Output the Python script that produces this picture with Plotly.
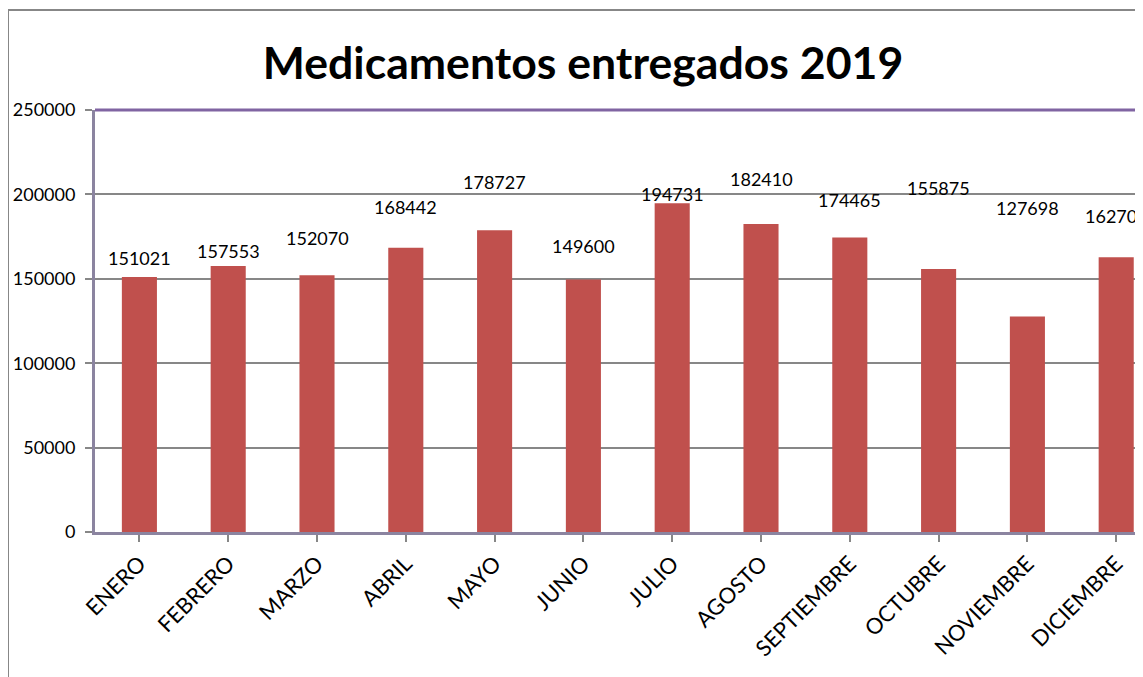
import plotly.graph_objects as go

months = ["ENERO", "FEBRERO", "MARZO", "ABRIL", "MAYO", "JUNIO", "JULIO",
          "AGOSTO", "SEPTIEMBRE", "OCTUBRE", "NOVIEMBRE", "DICIEMBRE"]
values = [151021, 157553, 152070, 168442, 178727, 149600, 194731,
          182410, 174465, 155875, 127698, 162702]
title_text = "Medicamentos entregados 2019"
y_ticks = [0, 50000, 100000, 150000, 200000, 250000]

# label placement (pixel shift above bar top), as in the original chart
label_shift = [18.6, 15, 37, 41, 48.6, 33, 9, 45, 38, 81, 108, 41]

FONT = "Lato"
BAR = "#C0504D"
GRID = "#878787"
AXIS = "#8B84A0"
TOP = "#8064A2"

fig = go.Figure(go.Bar(
    x=list(range(len(months))), y=values,
    marker=dict(color=BAR, line=dict(width=0)),
    width=0.395, hoverinfo="x+y",
))

for i, (v, s) in enumerate(zip(values, label_shift)):
    fig.add_annotation(x=i, y=v, xref="x", yref="y", text=str(v),
                       showarrow=False, yanchor="middle", yshift=s,
                       font=dict(family=FONT, size=18, color="#000000"))

O = 8  # page body offset
W, H = 1143 - O, 677 - O
L, T, B, R = 95 - O, 110 - O, 145, 0
PW, PH = W - L - R, H - T - B
fig.update_layout(
    width=W, height=H,
    margin=dict(l=L, r=R, t=T, b=B, pad=0),
    paper_bgcolor="white", plot_bgcolor="white",
    showlegend=False,
    title=dict(text="<b>" + title_text + "</b>", x=((264 + 902) / 2 - O) / W, xanchor="center",
               y=1 - (63 - O) / H, yanchor="middle",
               font=dict(family=FONT, size=44.6, color="#000000")),
    font=dict(family=FONT, size=19, color="#000000"),
    xaxis=dict(tickmode="array", tickvals=list(range(len(months))), ticktext=months,
               range=[-0.5, -0.5 + PW / 88.8], tickangle=-45,
               showgrid=False, zeroline=False,
               showline=True, linecolor=AXIS, linewidth=3,
               ticks="outside", ticklen=7, tickcolor=GRID, tickwidth=2,
               tickson="boundaries",
               tickfont=dict(family=FONT, size=22, color="#000000")),
    yaxis=dict(range=[0, 250000], tickmode="array", tickvals=y_ticks,
               ticktext=[str(t) for t in y_ticks],
               showgrid=True, gridcolor=GRID, gridwidth=2, zeroline=False,
               showline=True, linecolor=AXIS, linewidth=3,
               ticks="outside", ticklen=7, tickcolor=GRID, tickwidth=2,
               ticklabelstandoff=6,
               tickfont=dict(family=FONT, size=18, color="#000000")),
)

# top line of plot area (purple) and outer chart border (gray)
fig.add_shape(type="line", xref="paper", yref="paper", x0=0, x1=1, y0=1, y1=1,
              line=dict(color=TOP, width=3))
bx = (0 - L) / PW
by = 1 + (T - 2) / PH
fig.add_shape(type="line", xref="paper", yref="paper",
              x0=bx, x1=bx, y0=-(B + 5) / PH, y1=by,
              line=dict(color=GRID, width=2))
fig.add_shape(type="line", xref="paper", yref="paper",
              x0=bx, x1=1.05, y0=by, y1=by,
              line=dict(color=GRID, width=2))

fig.write_html("out.html")
